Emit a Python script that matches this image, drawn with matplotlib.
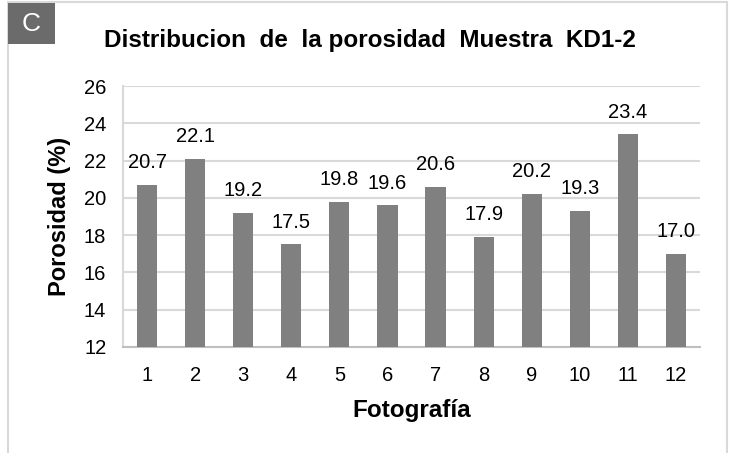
import matplotlib
matplotlib.use('Agg')
import matplotlib.pyplot as plt
from matplotlib.patches import Rectangle

# --- data ---
fotos = [1, 2, 3, 4, 5, 6, 7, 8, 9, 10, 11, 12]
porosidad = [20.7, 22.1, 19.2, 17.5, 19.8, 19.6, 20.6, 17.9, 20.2, 19.3, 23.4, 17.0]
y_ticks = [12, 14, 16, 18, 20, 22, 24, 26]

W, H = 729, 453
plt.rcParams['font.family'] = ['Liberation Sans', 'DejaVu Sans']

fig = plt.figure(figsize=(W / 100, H / 100), dpi=100)

# outer frame and the panel letter box
fig.patches.append(Rectangle((8 / W, -0.05), (727 - 8) / W, 1.05 - 2 / H,
                             transform=fig.transFigure, fill=False,
                             edgecolor='#d9d9d9', linewidth=1.5))
fig.patches.append(Rectangle((8 / W, 1 - 44 / H), 47 / W, 41 / H,
                             transform=fig.transFigure, facecolor='#6b6b6b',
                             edgecolor='none'))
fig.text(31 / W, 1 - 24 / H, 'C', color='white', fontsize=19,
         ha='center', va='center')

ax = fig.add_axes([123 / W, 1 - 347 / H, (700 - 123) / W, (347 - 86) / H])

ax.bar(fotos, porosidad, width=0.42, color='#808080', zorder=3)
for x, v in zip(fotos, porosidad):
    ax.annotate(f'{v:.1f}', (x, v), xytext=(0, 16), textcoords='offset points',
                ha='center', va='center', fontsize=14.5)

ax.set_xlim(0.5, 12.5)
ax.set_ylim(12, 26)
ax.set_xticks(fotos)
ax.set_yticks(y_ticks)
ax.tick_params(axis='both', length=0, labelsize=14.5)
ax.tick_params(axis='x', pad=14)
ax.tick_params(axis='y', pad=12)
ax.grid(axis='y', color='#d9d9d9', linewidth=1.5, zorder=0)

for s in ['top', 'right']:
    ax.spines[s].set_visible(False)
ax.spines['left'].set_color('#d9d9d9')
ax.spines['left'].set_linewidth(1.5)
ax.spines['bottom'].set_color('#bfbfbf')
ax.spines['bottom'].set_linewidth(1.5)

ax.set_xlabel('Fotografía', fontsize=17.5, fontweight='bold', labelpad=10)
ax.set_ylabel('Porosidad (%)', fontsize=17, fontweight='bold', labelpad=9)
fig.text(370 / W, 1 - 40 / H, 'Distribucion  de  la porosidad  Muestra  KD1-2',
         fontsize=17.5, fontweight='bold', ha='center', va='center')

fig.savefig('out.png', dpi=100)
